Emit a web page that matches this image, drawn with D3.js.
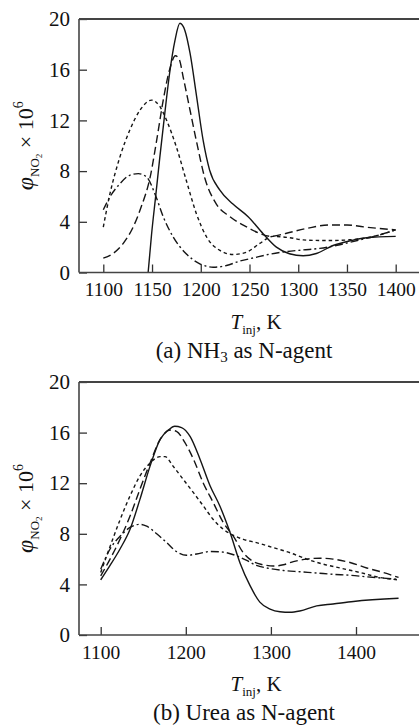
<!DOCTYPE html>
<html>
<head>
<meta charset="utf-8">
<script src="https://cdn.jsdelivr.net/npm/d3@7/dist/d3.min.js"></script>
<style>
  html, body { margin: 0; padding: 0; background: #fff; }
  svg { display: block; }
  svg text { font-family: "Liberation Serif", "Times New Roman", serif !important; fill: #111; }
</style>
</head>
<body>
<svg id="chart" width="419" height="726"></svg>
<script>
// NO2 mole fraction (x 10^6) versus injection temperature, four cases per N-agent.
// Each series is a list of [T_inj (K), phi_NO2 x 10^6].

const yTicks = [0, 4, 8, 12, 16, 20];
const xTicksNH3 = [1100, 1150, 1200, 1250, 1300, 1350, 1400];
const xTicksUrea = [1100, 1200, 1300, 1400];

// (a) NH3 as N-agent
const nh3Solid = [[1146,0],[1149.5,3.0],[1154,6.2],[1158,9.1],[1163,12.5],[1168,15.7],[1173.5,18.3],
  [1178.6,19.66],[1183.7,19.1],[1189,17.3],[1195.7,13.9],[1202.5,10.4],[1209,8.1],[1219.6,6.5],
  [1233,5.4],[1248.6,4.4],[1264,3.06],[1277.6,2.0],[1291,1.48],[1305,1.32],[1318.6,1.5],
  [1335.7,2.13],[1353,2.5],[1370,2.74],[1400,2.85]];
const nh3LongDash = [[1100,1.13],[1110,1.5],[1120.5,2.3],[1130.7,3.6],[1139,5.2],[1148,7.5],
  [1154.7,10.4],[1161.5,13.6],[1168,16.0],[1174,17.1],[1178,16.8],[1182,15.4],[1189,12.8],
  [1196,10.2],[1204,7.5],[1216,5.4],[1230,4.4],[1247,3.6],[1260,3.1],[1272,2.85],[1288,3.1],
  [1310,3.5],[1332,3.75],[1350,3.75],[1367,3.6],[1400,3.36]];
const nh3ShortDash = [[1100,3.58],[1106.8,6.2],[1117,9.1],[1127,11.2],[1137.6,12.8],[1149.5,13.6],
  [1158,13.1],[1165,12.0],[1175,9.9],[1185,7.3],[1195.7,4.6],[1206,2.8],[1219.6,1.74],[1233,1.42],
  [1247,1.6],[1260.6,2.3],[1274,2.85],[1291,2.75],[1305,2.57],[1330,2.52],[1352.8,2.58],
  [1367,2.7],[1385,3.0],[1400,3.36]];
const nh3DashDot = [[1100,4.95],[1106.8,5.96],[1117,7.0],[1127,7.67],[1136,7.8],[1144.4,7.54],
  [1153,6.2],[1161.5,4.4],[1171.7,2.8],[1185,1.48],[1199,0.69],[1212.7,0.42],[1226.4,0.55],
  [1240,0.9],[1254,1.15],[1271,1.45],[1288,1.65],[1305,1.78],[1322,1.9],[1340,2.15],
  [1356,2.44],[1378,2.85],[1400,3.36]];

// (b) Urea as N-agent
const ureaSolid = [[1100,4.36],[1111,5.5],[1122.7,6.8],[1134.5,8.36],[1146,10.7],[1158,13.35],
  [1169.7,15.45],[1179.5,16.2],[1187,16.5],[1195,16.4],[1205,15.7],[1216.7,13.9],[1228.5,11.8],
  [1240,10.2],[1252,8.1],[1263.7,5.7],[1275.5,3.9],[1287,2.6],[1299,2.05],[1310.7,1.84],
  [1322.5,1.8],[1334,1.9],[1353.8,2.3],[1373,2.45],[1397,2.65],[1450,2.9]];
const ureaLongDash = [[1100,4.68],[1111,6.0],[1122.7,7.57],[1134.5,9.4],[1146,11.5],[1158,13.6],
  [1169.7,15.45],[1181.5,16.2],[1189,16.1],[1199,15.2],[1209,13.9],[1220.6,12.0],[1232,10.5],
  [1244,8.9],[1256,7.8],[1267.6,6.5],[1279.4,5.8],[1291,5.55],[1303,5.45],[1314.6,5.55],
  [1326.4,5.8],[1342,6.0],[1357.7,6.07],[1373,6.0],[1393,5.73],[1412.6,5.3],[1432,4.94],[1450,4.55]];
const ureaShortDash = [[1100,4.94],[1111,7.0],[1122.7,9.1],[1134.5,11.0],[1146,12.56],[1158,13.6],
  [1169.7,14.1],[1175.6,14.1],[1185,13.35],[1197,12.3],[1209,11.25],[1220.6,10.2],[1232,9.15],
  [1244,8.36],[1256,7.88],[1267.6,7.56],[1283,7.3],[1303,6.9],[1322.5,6.5],[1342,6.0],
  [1361.6,5.6],[1381,5.3],[1404.7,4.94],[1428,4.55],[1450,4.36]];
const ureaDashDot = [[1100,5.2],[1111,6.8],[1122.7,7.8],[1134.5,8.5],[1146,8.75],[1154,8.6],
  [1165.8,8.0],[1177.6,7.3],[1189,6.6],[1201,6.3],[1212.8,6.4],[1228.5,6.6],[1244,6.55],
  [1260,6.25],[1271.6,5.9],[1283,5.5],[1295,5.3],[1314.6,5.1],[1334,5.0],[1353.8,4.9],
  [1373,4.8],[1393,4.72],[1412.6,4.6],[1450,4.4]];

const dashStyles = {
  solid: null,
  longDash: "8,4",
  shortDash: "3.5,3",
  dashDot: "8,3,2,3"
};

const FONT = '"Liberation Serif", "Times New Roman", serif';
const svg = d3.select("#chart");
const W = 419;

function drawPanel(cfg) {
  const g = svg.append("g");
  const x = d3.scaleLinear().domain([1100, 1400]).range(cfg.xRange);
  const y = d3.scaleLinear().domain([0, 20]).range([cfg.bottom, cfg.top]);
  const left = 79;

  // curves
  const line = d3.line()
    .x(d => x(d[0]))
    .y(d => y(d[1]))
    .curve(d3.curveMonotoneX);

  cfg.series.forEach(s => {
    g.append("path")
      .datum(s.data)
      .attr("d", line)
      .attr("fill", "none")
      .attr("stroke", "#151515")
      .attr("stroke-width", 1.4)
      .attr("stroke-dasharray", dashStyles[s.style]);
  });

  // x axis (ticks point inward)
  const xAxis = d3.axisBottom(x)
    .tickValues(cfg.xTicks)
    .tickSizeInner(-8)
    .tickSizeOuter(0)
    .tickPadding(10)
    .tickFormat(d3.format("d"));
  const gx = g.append("g")
    .attr("transform", `translate(0,${cfg.bottom})`)
    .call(xAxis)
    .attr("font-family", FONT)
    .attr("font-size", cfg.xTickFont);
  gx.select(".domain").remove();
  gx.selectAll(".tick line").attr("stroke", "#333").attr("stroke-width", 1.3);
  gx.selectAll(".tick text").attr("fill", "#111");

  // y axis (ticks point inward)
  const yAxis = d3.axisLeft(y)
    .tickValues(yTicks)
    .tickSizeInner(-8)
    .tickSizeOuter(0)
    .tickPadding(9);
  const gy = g.append("g")
    .attr("transform", `translate(${left},0)`)
    .call(yAxis)
    .attr("font-family", FONT)
    .attr("font-size", 21);
  gy.select(".domain").remove();
  gy.selectAll(".tick line").attr("stroke", "#333").attr("stroke-width", 1.3);
  gy.selectAll(".tick text").attr("fill", "#111");

  // frame: left, top and bottom lines
  g.append("line").attr("x1", left).attr("x2", left).attr("y1", cfg.top).attr("y2", cfg.bottom)
    .attr("stroke", "#444").attr("stroke-width", 1.6);
  g.append("line").attr("x1", left).attr("x2", W).attr("y1", cfg.top).attr("y2", cfg.top)
    .attr("stroke", "#444").attr("stroke-width", 1.8);
  g.append("line").attr("x1", left).attr("x2", W).attr("y1", cfg.bottom).attr("y2", cfg.bottom)
    .attr("stroke", "#444").attr("stroke-width", 1.6);

  // y label: phi_NO2 x 10^6
  const yl = g.append("text")
    .attr("transform", `translate(33,${(cfg.top + cfg.bottom) / 2}) rotate(-90)`)
    .attr("text-anchor", "middle")
    .attr("font-family", FONT)
    .attr("font-size", 22);
  yl.append("tspan").text("φ").attr("font-style", "italic").attr("font-size", 24);
  yl.append("tspan").text("NO").attr("font-size", 13).attr("dy", 6);
  yl.append("tspan").text("2").attr("font-size", 9).attr("dy", 3);
  yl.append("tspan").text(" × 10").attr("dy", -9);
  yl.append("tspan").text("6").attr("font-size", 14).attr("dy", -10);

  // x label: T_inj, K
  const xl = g.append("text")
    .attr("x", 256)
    .attr("y", cfg.bottom + 56)
    .attr("text-anchor", "middle")
    .attr("font-family", FONT)
    .attr("font-size", 21);
  xl.append("tspan").text("T").attr("font-style", "italic");
  xl.append("tspan").text("inj").attr("font-size", 13).attr("dy", 5);
  xl.append("tspan").text(", K").attr("dy", -5);

  // panel caption
  const cap = g.append("text")
    .attr("x", 244)
    .attr("y", cfg.bottom + 85)
    .attr("text-anchor", "middle")
    .attr("font-family", FONT)
    .attr("font-size", 23);
  cfg.caption.forEach(p => {
    const t = cap.append("tspan").text(p.text);
    if (p.sub) t.attr("font-size", 15).attr("dy", 4);
    if (p.back) t.attr("dy", -4);
  });
}

drawPanel({
  top: 19, bottom: 272.5,
  xRange: [103.3, 395.7],
  xTicks: xTicksNH3,
  xTickFont: 19.5,
  series: [
    { data: nh3Solid, style: "solid" },
    { data: nh3LongDash, style: "longDash" },
    { data: nh3ShortDash, style: "shortDash" },
    { data: nh3DashDot, style: "dashDot" }
  ],
  caption: [{ text: "(a) NH" }, { text: "3", sub: true }, { text: " as N-agent", back: true }]
});

drawPanel({
  top: 382, bottom: 635,
  xRange: [100.7, 356],
  xTicks: xTicksUrea,
  xTickFont: 19.5,
  series: [
    { data: ureaSolid, style: "solid" },
    { data: ureaLongDash, style: "longDash" },
    { data: ureaShortDash, style: "shortDash" },
    { data: ureaDashDot, style: "dashDot" }
  ],
  caption: [{ text: "(b) Urea as N-agent" }]
});
</script>
</body>
</html>
